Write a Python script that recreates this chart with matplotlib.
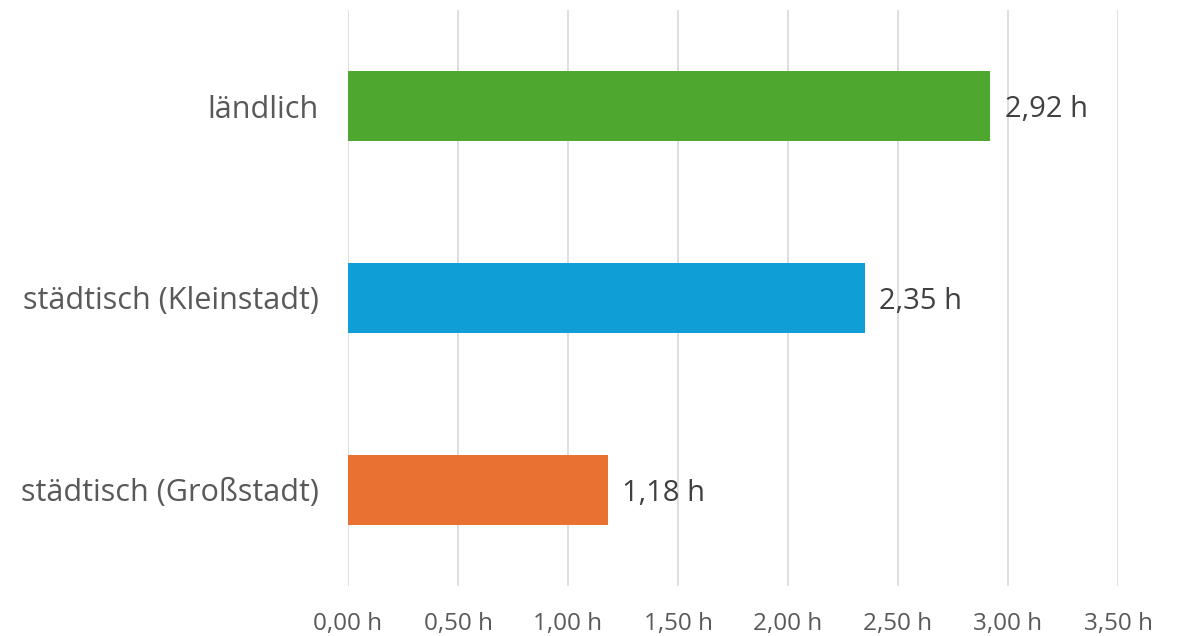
import matplotlib
matplotlib.use("Agg")
from matplotlib import pyplot as plt

categories = ["städtisch (Großstadt)", "städtisch (Kleinstadt)", "ländlich"]
hours = [1.18, 2.35, 2.92]
colors = ["#E97132", "#0F9ED5", "#4EA72E"]
xticks = [0.0, 0.5, 1.0, 1.5, 2.0, 2.5, 3.0, 3.5]


def fmt_h(v):
    return f"{v:.2f}".replace(".", ",") + " h"


plt.rcParams["font.family"] = ["Open Sans", "DejaVu Sans"]

fig = plt.figure(figsize=(11.78, 6.36), dpi=100)
ax = fig.add_axes([348 / 1178, 50 / 636, 770 / 1178, 576 / 636])

ypos = list(range(len(categories)))
ax.barh(ypos, hours, height=0.36, color=colors, zorder=3)

for y, v in zip(ypos, hours):
    ax.text(v + 0.065, y - 0.02, fmt_h(v), va="center", ha="left",
            fontsize=21, color="#404040")

ax.set_xlim(0, 3.5)
ax.set_ylim(-0.5, 2.5)
ax.set_xticks(xticks)
ax.set_xticklabels([fmt_h(t) for t in xticks], fontsize=17.5, color="#595959")
ax.set_yticks(ypos)
ax.set_yticklabels(categories, fontsize=22, color="#595959")
ax.tick_params(axis="both", length=0)
ax.tick_params(axis="x", pad=19)
ax.tick_params(axis="y", pad=21)

ax.grid(axis="x", color="#D9D9D9", linewidth=1.2, zorder=0)
for s in ax.spines.values():
    s.set_visible(False)

fig.savefig("out.png", dpi=100)
